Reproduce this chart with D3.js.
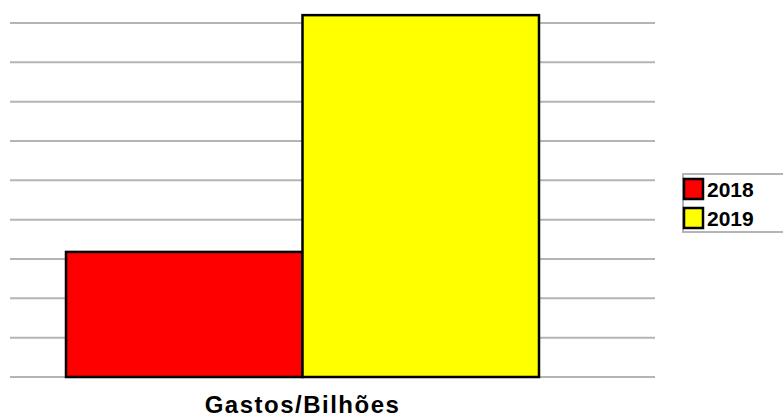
<!DOCTYPE html>
<html>
<head>
<meta charset="utf-8">
<script src="https://cdn.jsdelivr.net/npm/d3@7"></script>
<style>
  html, body { margin: 0; padding: 0; background: #fff; }
  svg { display: block; font-family: "Liberation Sans", Arial, sans-serif; }
</style>
</head>
<body>
<svg id="chart" width="783" height="419"></svg>
<script>
// Data
const years = ['2018', '2019'];
const values = [3.18, 9.2];
const colors = ['#ff0000', '#ffff00'];
const gridTicks = [0, 1, 2, 3, 4, 5, 6, 7, 8, 9];
const categoryLabel = 'Gastos/Bilhões';

const svg = d3.select('#chart');

const x = d3.scaleBand()
    .domain(years)
    .range([66, 539])
    .padding(0);

const y = d3.scaleLinear()
    .domain([0, 9])
    .range([377, 23]);

// Gridlines
svg.append('g').selectAll('line')
    .data(gridTicks)
    .join('line')
    .attr('x1', 10).attr('x2', 655)
    .attr('y1', d => y(d)).attr('y2', d => y(d))
    .attr('stroke', '#b4b4b4')
    .attr('stroke-width', 2);

// Bars
svg.append('g').selectAll('rect')
    .data(years)
    .join('rect')
    .attr('x', d => x(d))
    .attr('y', (d, i) => y(values[i]))
    .attr('width', x.bandwidth())
    .attr('height', (d, i) => y(0) - y(values[i]))
    .attr('fill', (d, i) => colors[i])
    .attr('stroke', '#000')
    .attr('stroke-width', 2.5);

// Category label
svg.append('text')
    .attr('x', (x.range()[0] + x.range()[1]) / 2)
    .attr('y', 413)
    .attr('text-anchor', 'middle')
    .attr('font-size', '24px')
    .attr('font-weight', 'bold')
    .attr('letter-spacing', '1.5px')
    .attr('fill', '#000')
    .text(categoryLabel);

// Legend
const legend = svg.append('g');
legend.append('path')
    .attr('d', 'M790,174 H683 V232 H790')
    .attr('fill', '#fff')
    .attr('stroke', '#b4b4b4')
    .attr('stroke-width', 2);

const items = legend.selectAll('g.item')
    .data(years)
    .join('g')
    .attr('class', 'item')
    .attr('transform', (d, i) => `translate(684,${179 + i * 29})`);

items.append('rect')
    .attr('width', 19).attr('height', 20)
    .attr('fill', (d, i) => colors[i])
    .attr('stroke', '#000')
    .attr('stroke-width', 2.5);

items.append('text')
    .attr('x', 23)
    .attr('y', 18)
    .attr('font-size', '21px')
    .attr('font-weight', 'bold')
    .attr('fill', '#000')
    .text(d => d);
</script>
</body>
</html>
